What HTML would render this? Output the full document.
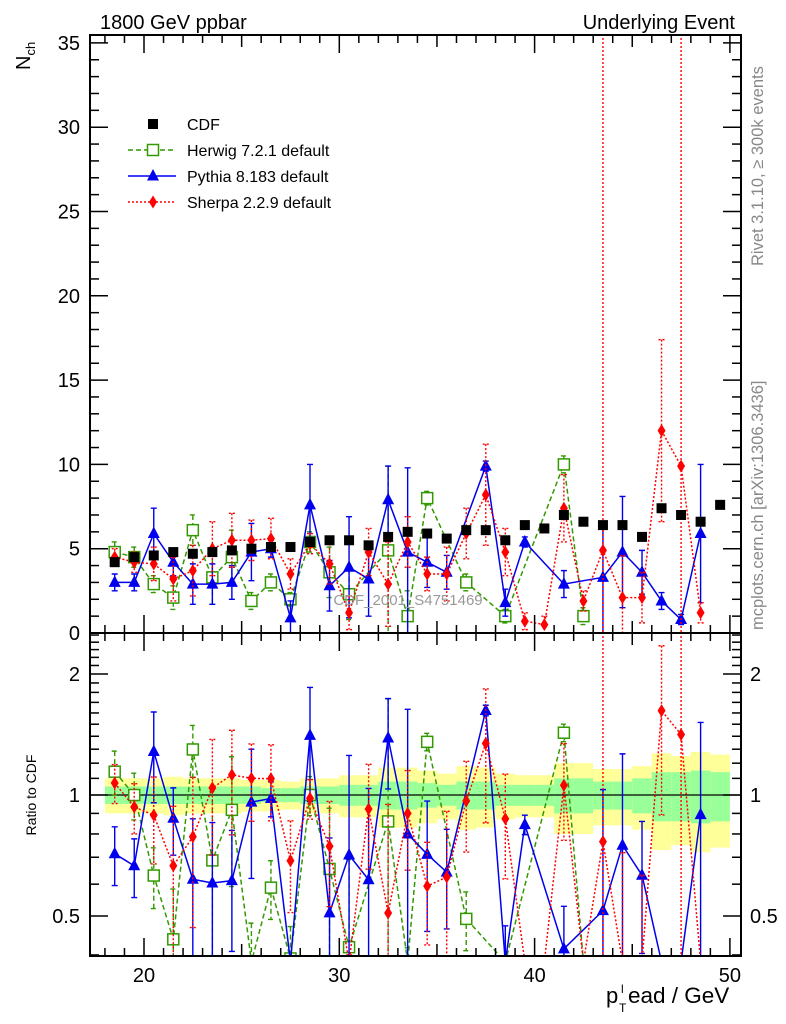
<!DOCTYPE html>
<html><head><meta charset="utf-8"><style>
html,body{margin:0;background:#fff;overflow:hidden;width:786px;height:1024px}
svg{font-family:"Liberation Sans",sans-serif;display:block}
</style></head><body>
<svg id="c" width="786" height="1024" viewBox="0 0 786 1024">
<defs>
<clipPath id="cm"><rect x="90" y="35" width="651" height="598"/></clipPath>
<clipPath id="cr"><rect x="90" y="633" width="651" height="323"/></clipPath>
</defs>
<g id="bands" clip-path="url(#cr)"></g>
<g id="mainMarks" clip-path="url(#cm)"></g>
<g id="ratioMarks" clip-path="url(#cr)"></g>
<g id="axes"></g>
<text x="100" y="29" font-size="20">1800 GeV ppbar</text>
<text x="735" y="29" font-size="20" text-anchor="end">Underlying Event</text>
<text transform="translate(30,70) rotate(-90)" font-size="20">N<tspan font-size="13" dy="5">ch</tspan></text>
<text transform="translate(36,795) rotate(-90)" font-size="14" text-anchor="middle">Ratio to CDF</text>
<text transform="translate(763,266) rotate(-90)" font-size="16.5" fill="#888">Rivet 3.1.10, ≥ 300k events</text>
<text transform="translate(763,630) rotate(-90)" font-size="16.5" fill="#888">mcplots.cern.ch [arXiv:1306.3436]</text>
<text x="408" y="605" font-size="15" fill="#999" text-anchor="middle">CDF_2001_S4751469</text>
<text x="606" y="1003" font-size="22">p</text>
<text x="619" y="1012" font-size="12">T</text>
<text x="621" y="993" font-size="12">l</text>
<text x="628" y="1003" font-size="22.5">ead / GeV</text>
<g id="legend"></g>
</svg>
<script>
const bins=[18.5,19.5,20.5,21.5,22.5,23.5,24.5,25.5,26.5,27.5,28.5,29.5,30.5,31.5,32.5,33.5,34.5,35.5,36.5,37.5,38.5,39.5,40.5,41.5,42.5,43.5,44.5,45.5,46.5,47.5,48.5,49.5];
const cdf=[4.2,4.5,4.6,4.8,4.7,4.8,4.9,5.0,5.1,5.1,5.4,5.5,5.5,5.2,5.7,6.0,5.9,5.6,6.1,6.1,5.5,6.4,6.2,7.0,6.6,6.4,6.4,5.7,7.4,7.0,6.6,7.6];
const cdfErr1=[0.05,0.05,0.05,0.05,0.05,0.05,0.05,0.05,0.04,0.04,0.05,0.05,0.06,0.06,0.08,0.08,0.07,0.06,0.08,0.08,0.06,0.06,0.06,0.1,0.1,0.08,0.08,0.1,0.14,0.14,0.15,0.14];
const cdfErr2=[0.1,0.1,0.1,0.11,0.1,0.1,0.1,0.09,0.09,0.08,0.1,0.1,0.12,0.12,0.17,0.17,0.15,0.13,0.18,0.17,0.13,0.12,0.12,0.2,0.2,0.16,0.16,0.18,0.27,0.25,0.28,0.26];
const herwigX=[18.5,19.5,20.5,21.5,22.5,23.5,24.5,25.5,26.5,27.5,28.5,29.5,30.5,32.5,33.5,34.5,36.5,38.5,41.5,42.5];
const herwig=[4.8,4.5,2.9,2.1,6.1,3.3,4.5,1.9,3.0,2.0,5.4,3.6,2.3,4.9,1.0,8.0,3.0,1.0,10.0,1.0];
const herwigErr=[0.6,0.6,0.5,0.7,0.9,1.6,1.6,0.5,0.5,0.4,0.6,1.5,1.5,5,1.5,0.4,0.5,0.4,0.5,0.5];
const pythiaX=[18.5,19.5,20.5,21.5,22.5,23.5,24.5,25.5,26.5,27.5,28.5,29.5,30.5,31.5,32.5,33.5,34.5,35.5,37.5,38.5,39.5,41.5,43.5,44.5,45.5,46.5,47.5,48.5];
const pythia=[3.0,3.0,5.9,4.2,2.9,2.9,3.0,4.8,5.0,0.9,7.6,2.8,3.9,3.2,7.9,4.8,4.2,3.6,9.9,1.8,5.4,2.9,3.3,4.8,3.6,1.9,0.8,5.9];
const pythiaErr=[0.5,0.5,1.5,0.8,1.2,1.2,1.0,1.7,0.5,1.0,2.4,1.5,3.0,2.2,2.0,5.0,1.5,1.0,0.3,0.8,0.3,0.8,3.3,3.3,1.3,0.5,0.3,4.1];
const sherpaX=[18.5,19.5,20.5,21.5,22.5,23.5,24.5,25.5,26.5,27.5,28.5,29.5,30.5,31.5,32.5,33.5,34.5,35.5,36.5,37.5,38.5,39.5,40.5,41.5,42.5,43.5,44.5,45.5,46.5,47.5,48.5];
const sherpa=[4.5,4.2,4.1,3.2,3.7,5.0,5.5,5.5,5.6,3.5,5.3,4.1,1.2,4.8,2.9,5.4,3.5,3.5,5.9,8.2,4.8,0.7,0.5,7.4,1.9,4.9,2.1,2.1,12.0,9.9,1.2];
const sherpaErr=[0.5,0.6,1.0,1.3,1.5,1.6,1.6,1.2,1.2,0.9,0.6,1.2,1.0,1.4,2.5,1.5,1.0,1.6,1.5,3.0,1.4,0.5,0.5,2.0,0.6,40,2.5,1.5,5.4,40,0.6];
const yTicks=[0,5,10,15,20,25,30,35];
const rTicks=[0.5,1,2];
const xTicks=[20,30,40,50];

const NS='http://www.w3.org/2000/svg';
const X=v=>144+(v-20)*19.53;
const clamp=(y,a,b)=>Math.min(Math.max(y,a),b);
const Y=v=>clamp(633-v*16.86,30,640);
const R=r=>clamp(795-Math.log2(Math.max(r,0.01))*121,628,962);
function mk(tag,at,par){const e=document.createElementNS(NS,tag);for(const k in at)e.setAttribute(k,at[k]);par.appendChild(e);return e;}
const gm=document.getElementById('mainMarks'),gr=document.getElementById('ratioMarks'),gb=document.getElementById('bands'),ga=document.getElementById('axes'),gl=document.getElementById('legend');

bins.forEach((b,i)=>{
  const x0=X(b-0.5),x1=X(b+0.5);
  let e=mk('rect',{x:x0,y:R(1+cdfErr2[i]),width:x1-x0,height:R(1-cdfErr2[i])-R(1+cdfErr2[i]),fill:'#ffff99'},gb);
  
  
  e=mk('rect',{x:x0,y:R(1+cdfErr1[i]),width:x1-x0,height:R(1-cdfErr1[i])-R(1+cdfErr1[i]),fill:'#99ff99'},gb);
  
  
});
let ref=mk('line',{x1:90,x2:741,y1:R(1),y2:R(1),stroke:'#000','stroke-width':1.3},gr);



function marker(kind,x,y,par){
  let e;
  if(kind==='sq') e=mk('rect',{x:x-5,y:y-5,width:10,height:10,fill:'#000'},par);
  else if(kind==='osq') e=mk('rect',{x:x-5.5,y:y-5.5,width:11,height:11,fill:'#fff',stroke:'#339900','stroke-width':1.5},par);
  else if(kind==='tri') e=mk('polygon',{points:`${x},${y-7} ${x-6},${y+4.5} ${x+6},${y+4.5}`,fill:'#0000ee'},par);
  else e=mk('polygon',{points:`${x},${y-6.5} ${x-4},${y} ${x},${y+6.5} ${x+4},${y}`,fill:'#ff0000'},par);
  return e;
}
function series(name,xs,vs,es,color,dash,kind){
  [[gm,Y],[gr,R]].forEach(([par,S],pi)=>{
    const g=mk('g',{},par);
    
    
    const val=(i)=>pi?vs[i]/cdf[bins.indexOf(xs[i])]:vs[i];
    const err=(i)=>pi?es[i]/cdf[bins.indexOf(xs[i])]:es[i];
    const pts=xs.map((x,i)=>X(x)+','+S(val(i))).join(' ');
    const pl=mk('polyline',{points:pts,fill:'none',stroke:color,'stroke-width':1.5,'stroke-dasharray':dash},g);
    
    
    xs.forEach((x,i)=>{
      const v=val(i),e=err(i),cx=X(x);
      const lo=Math.max(v-e,0.001);
      const eb=mk('path',{d:`M${cx},${S(v+e)}V${S(lo)}M${cx-3},${S(v+e)}h6M${cx-3},${S(lo)}h6`,stroke:color,'stroke-width':1.4,fill:'none','stroke-dasharray':dash},g);
      
      
      const m=marker(kind,cx,S(v),g);
      
      
    });
  });
}
series('herwig',herwigX,herwig,herwigErr,'#339900','5,3','osq');
series('pythia',pythiaX,pythia,pythiaErr,'#0000ee','none','tri');
series('sherpa',sherpaX,sherpa,sherpaErr,'#ff0000','2,2','dia');
bins.forEach((b,i)=>{
  const m=marker('sq',X(b),Y(cdf[i]),gm);
  
  
});

[[35,633],[633,956]].forEach(([t,b],k)=>{
  const f=mk('rect',{x:90,y:t,width:651,height:b-t,fill:'none',stroke:'#000','stroke-width':2},ga);
  
  
});
for(let v=18;v<=50;v++){
  const big=v%10===0,mid=v%5===0;
  const L=big?18:(mid?12:8);
  [[35,1],[633,1],[633,-1],[956,-1]].forEach(([yb,dir])=>{
    const t=mk('line',{x1:X(v),x2:X(v),y1:yb,y2:yb+dir*L,stroke:'#000','stroke-width':1.5},ga);
    
    
  });
}
xTicks.forEach(v=>{
  const t=mk('text',{x:X(v),y:982,'font-size':20,'text-anchor':'middle'},ga);
  t.textContent=v;
  
  
});
for(let v=0;v<=35;v++){
  const L=v%5===0?18:9;
  [[90,1],[741,-1]].forEach(([xb,d])=>{
    const t=mk('line',{x1:xb,x2:xb+d*L,y1:633-v*16.86,y2:633-v*16.86,stroke:'#000','stroke-width':1.5},ga);
    
    
  });
}
yTicks.forEach(v=>{
  const t=mk('text',{x:80,y:633-v*16.86+7,'font-size':20,'text-anchor':'end'},ga);
  t.textContent=v;
  
  
});
const rMinor=[0.4,0.5,0.6,0.7,0.8,0.9,1,1.1,1.2,1.3,1.4,1.5,1.6,1.7,1.8,1.9,2,2.1,2.2,2.3,2.4,2.5];
rMinor.forEach(r=>{
  const L=rTicks.includes(r)?18:9;
  [[90,1],[741,-1]].forEach(([xb,d])=>{
    const t=mk('line',{x1:xb,x2:xb+d*L,y1:R(r),y2:R(r),stroke:'#000','stroke-width':1.5},ga);
    
    
  });
});
rTicks.forEach(r=>{
  [[80,'end'],[750,'start']].forEach(([x,a])=>{
    const t=mk('text',{x:x,y:R(r)+7,'font-size':20,'text-anchor':a},ga);
    t.textContent=r;
    
    
  });
});
const legNames=['CDF','Herwig 7.2.1 default','Pythia 8.183 default','Sherpa 2.2.9 default'];
const legKinds=['sq','osq','tri','dia'];
const legColors=['#000','#339900','#0000ee','#ff0000'];
const legDash=['none','5,3','none','2,2'];
legNames.forEach((n,i)=>{
  const y=124+i*26;
  const g=mk('g',{},gl);
  
  
  if(i>0){mk('line',{x1:128,x2:176,y1:y,y2:y,stroke:legColors[i],'stroke-width':1.5,'stroke-dasharray':legDash[i]},g);}
  marker(legKinds[i],153,y,g);
  const t=mk('text',{x:187,y:y+6,'font-size':16},g);
  t.textContent=n;
});
</script>
</body></html>
